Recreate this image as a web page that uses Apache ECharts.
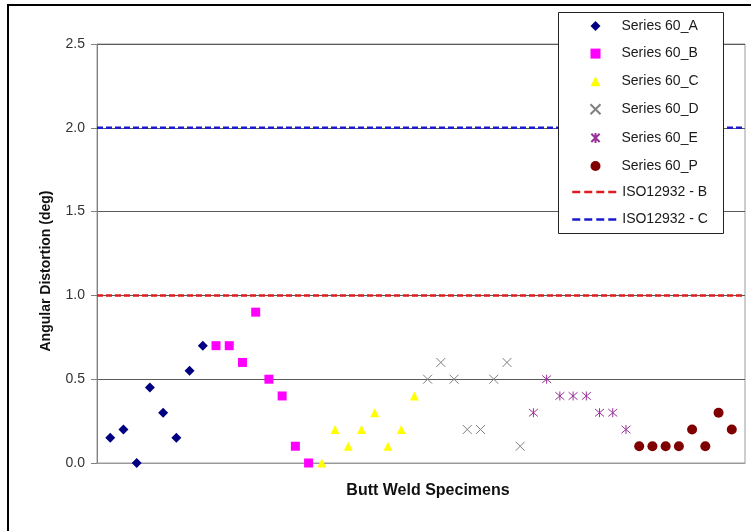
<!DOCTYPE html>
<html>
<head>
<meta charset="utf-8">
<script src="https://cdn.jsdelivr.net/npm/echarts@6/dist/echarts.min.js"></script>
<style>
  html, body { margin: 0; padding: 0; background: #fff; }
  #chart { width: 751px; height: 531px; }
</style>
</head>
<body>
<div id="chart"></div>
<script>
// Angular distortion (deg) measured for each butt weld specimen, grouped by series.
const seriesA = [0.15, 0.2, 0.0, 0.45, 0.3, 0.15, 0.55, 0.7];
const seriesB = [0.7, 0.7, 0.6, 0.9, 0.5, 0.4, 0.1, 0.0];
const seriesC = [0.0, 0.2, 0.1, 0.2, 0.3, 0.1, 0.2, 0.4];
const seriesD = [0.5, 0.6, 0.5, 0.2, 0.2, 0.5, 0.6, 0.1];
const seriesE = [0.3, 0.5, 0.4, 0.4, 0.4, 0.3, 0.3, 0.2];
const seriesP = [0.1, 0.1, 0.1, 0.1, 0.2, 0.1, 0.3, 0.2];

// ISO 12932 tolerance limits (deg)
const isoLimitB = 1.0;
const isoLimitC = 2.0;

// Specimen index range on the horizontal axis
const specimenMin = 0;
const specimenMax = 49;

// Vertical axis ticks
const yTicks = [0.0, 0.5, 1.0, 1.5, 2.0, 2.5];

const markerNames = ['Series 60_A', 'Series 60_B', 'Series 60_C', 'Series 60_D', 'Series 60_E', 'Series 60_P'];
const limitNames = ['ISO12932 - B', 'ISO12932 - C'];

const FONT = "'Liberation Sans', Arial, sans-serif";

// Place each group one after another along the specimen axis
let nextIndex = 1;
function toPoints(values) {
  return values.map(v => [nextIndex++, v]);
}
const ptsA = toPoints(seriesA);
const ptsB = toPoints(seriesB);
const ptsC = toPoints(seriesC);
const ptsD = toPoints(seriesD);
const ptsE = toPoints(seriesE);
const ptsP = toPoints(seriesP);

const crossPath = 'path://M0,0L10,10M10,0L0,10';
const starPath = 'path://M0,0L10,10M10,0L0,10M5,-1L5,11';

function scatter(name, data, symbol, size, itemStyle) {
  return { name, type: 'scatter', data, symbol, symbolSize: size,
           itemStyle: Object.assign({ opacity: 1 }, itemStyle), z: 3 };
}
function limitLine(name, value, color) {
  return {
    name, type: 'line', symbol: 'none', showSymbol: false, z: 2,
    data: [[specimenMin, value], [specimenMax, value]],
    lineStyle: { color, width: 2.5, type: [6, 3] },
    itemStyle: { color },
    silent: true
  };
}

const legendText = { color: '#1a1a1a', fontFamily: FONT, fontSize: 14, lineHeight: 14 };

const chart = echarts.init(document.getElementById('chart'), null, { renderer: 'canvas' });
chart.setOption({
  animation: false,
  backgroundColor: '#fff',
  grid: {
    left: 97, right: 6, top: 44, bottom: 68,
    show: true, borderColor: '#9a9a9a', borderWidth: 1, backgroundColor: 'transparent'
  },
  xAxis: {
    type: 'value', min: specimenMin, max: specimenMax,
    axisLine: { show: true, lineStyle: { color: '#9a9a9a' } },
    axisTick: { show: false }, axisLabel: { show: false }, splitLine: { show: false }
  },
  yAxis: {
    type: 'value', min: yTicks[0], max: yTicks[yTicks.length - 1], interval: 0.5,
    axisLine: { show: true, lineStyle: { color: '#808080' } },
    axisTick: { show: true, inside: false, length: 6, lineStyle: { color: '#808080' } },
    axisLabel: {
      margin: 12, color: '#333', fontFamily: FONT, fontSize: 14,
      formatter: v => v.toFixed(1)
    },
    splitLine: { show: true, lineStyle: { color: '#5a5a5a', width: 1 } }
  },
  legend: [
    {
      orient: 'vertical', left: 588, top: 19, z: 150,
      itemWidth: 10, itemHeight: 10, itemGap: 13.6, padding: 0,
      textStyle: Object.assign({ padding: [0, 0, 0, 16] }, legendText),
      data: markerNames
    },
    {
      orient: 'vertical', left: 571, top: 185, z: 150,
      itemWidth: 45, itemHeight: 8, itemGap: 13.6, padding: 0,
      itemStyle: { opacity: 0 },
      lineStyle: { type: [8, 4], width: 2.5 },
      textStyle: legendText,
      data: limitNames
    }
  ],
  graphic: [
    { type: 'rect', z: 100, shape: { x: 8, y: 5, width: 800, height: 600 },
      style: { fill: 'none', stroke: '#000', lineWidth: 2 } },
    { type: 'rect', z: 100, shape: { x: 558.5, y: 12.5, width: 165, height: 221 },
      style: { fill: '#fff', stroke: '#222', lineWidth: 1 } },
    { type: 'text', z: 100, x: 46, y: 271, rotation: Math.PI / 2,
      style: { text: 'Angular Distortion (deg)', font: 'bold 14px ' + FONT, fill: '#111',
               textAlign: 'center', textVerticalAlign: 'middle' } },
    { type: 'text', z: 100, x: 428, y: 491,
      style: { text: 'Butt Weld Specimens', font: 'bold 16px ' + FONT, fill: '#111',
               textAlign: 'center', textVerticalAlign: 'middle' } }
  ],
  series: [
    limitLine(limitNames[0], isoLimitB, '#e01b1b'),
    limitLine(limitNames[1], isoLimitC, '#1a1acc'),
    scatter(markerNames[0], ptsA, 'diamond', 10, { color: '#000080' }),
    scatter(markerNames[1], ptsB, 'rect', 9, { color: '#ff00ff' }),
    scatter(markerNames[2], ptsC, 'triangle', 9, { color: '#ffff00' }),
    scatter(markerNames[3], ptsD, crossPath, 9, { color: 'none', borderColor: '#808080', borderWidth: 1 }),
    scatter(markerNames[4], ptsE, starPath, 9, { color: 'none', borderColor: '#993399', borderWidth: 1 }),
    scatter(markerNames[5], ptsP, 'circle', 10, { color: '#800000' })
  ]
});
</script>
</body>
</html>
